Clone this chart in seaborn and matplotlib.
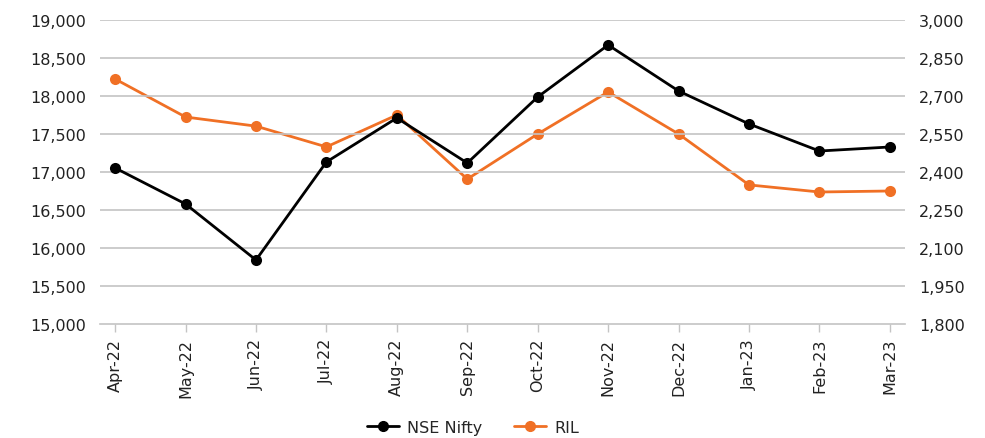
import matplotlib
matplotlib.use("Agg")
import matplotlib.pyplot as plt
import seaborn as sns
import pandas as pd
from matplotlib.lines import Line2D
from matplotlib.ticker import FuncFormatter

months = ["Apr-22", "May-22", "Jun-22", "Jul-22", "Aug-22", "Sep-22",
          "Oct-22", "Nov-22", "Dec-22", "Jan-23", "Feb-23", "Mar-23"]
nifty = [17053, 16579, 15842, 17132, 17711, 17118, 17987, 18671, 18066, 17632, 17276, 17329]
ril = [2767, 2617, 2581, 2499, 2625, 2372, 2550, 2716, 2550, 2349, 2321, 2325]
left_ticks = [15000, 15500, 16000, 16500, 17000, 17500, 18000, 18500, 19000]
right_ticks = [1800, 1950, 2100, 2250, 2400, 2550, 2700, 2850, 3000]

BLACK = "#000000"
ORANGE = "#F07025"
GRID = "#C4C4C4"

sns.set_theme(style="white")
plt.rcParams['font.family'] = ['DejaVu Sans']

df = pd.DataFrame({"x": range(len(months)), "month": months, "nifty": nifty, "ril": ril})

fig = plt.figure(figsize=(9.85, 4.39), dpi=100)
ax = fig.add_axes([0.1015, 0.2597, 0.8173, 0.6925])
ax2 = ax.twinx()

sns.lineplot(data=df, x="x", y="nifty", ax=ax, color=BLACK, linewidth=2.0,
             marker="o", markersize=8, markeredgewidth=0, zorder=3)
sns.lineplot(data=df, x="x", y="ril", ax=ax2, color=ORANGE, linewidth=2.0,
             marker="o", markersize=8, markeredgewidth=0, zorder=3)

ax.set_zorder(ax2.get_zorder() + 1)
ax.patch.set_visible(False)

ax.set_ylim(15000, 19000)
ax2.set_ylim(1800, 3000)
ax.set_yticks(left_ticks)
ax2.set_yticks(right_ticks)
fmt = FuncFormatter(lambda v, p: f"{int(v):,}")
ax.yaxis.set_major_formatter(fmt)
ax2.yaxis.set_major_formatter(fmt)

ax.set_xlim(-0.215, 11.215)
ax.set_xticks(range(len(months)))
ax.set_xticklabels(months, rotation=90)

for a in (ax, ax2):
    a.set_xlabel("")
    a.set_ylabel("")
    for s in a.spines.values():
        s.set_visible(False)
    a.tick_params(axis="y", length=0, labelsize=11.5, colors="#222222", pad=10)

ax.spines["bottom"].set_visible(True)
ax.spines["bottom"].set_color(GRID)
ax.spines["bottom"].set_linewidth(1.2)
ax.tick_params(axis="x", bottom=True, length=6, width=1, color=GRID,
               labelsize=11.5, labelcolor="#222222", pad=4)

ax.grid(False)
ax2.grid(False)
for t in left_ticks[1:]:
    ax.axhline(t, color=GRID, linewidth=1.2, zorder=0)

handles = [
    Line2D([0], [0], color=BLACK, lw=2.0, marker="o", markersize=7),
    Line2D([0], [0], color=ORANGE, lw=2.0, marker="o", markersize=7),
]
fig.legend(handles, ["NSE Nifty", "RIL"], loc="center", bbox_to_anchor=(0.48, 0.025),
           ncol=2, frameon=False, fontsize=11.5, handlelength=2.0, columnspacing=2.0,
           handletextpad=0.5)

fig.savefig("out.png", dpi=100)
